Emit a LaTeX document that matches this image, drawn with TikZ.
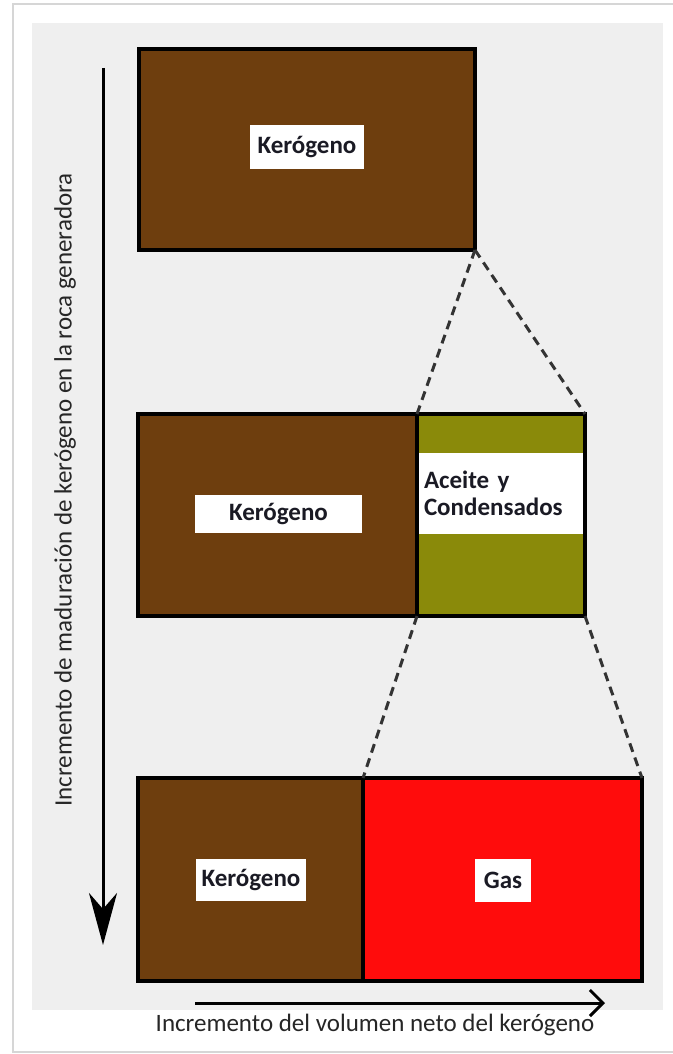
\documentclass[tikz,border=0pt]{standalone}
\usepackage{fontspec}
\setmainfont{Carlito}
\usepackage{tikz}
\usetikzlibrary{arrows.meta,positioning,calc}
\definecolor{kerobrown}{RGB}{110,62,14}
\definecolor{oilgreen}{RGB}{138,138,10}
\definecolor{gasred}{RGB}{255,12,12}
\definecolor{panelgray}{RGB}{239,239,239}
\definecolor{framegray}{RGB}{214,214,214}
\definecolor{labeltext}{RGB}{26,26,36}

\begin{document}
\begin{tikzpicture}[x = 1pt, y = -1pt,
  layer/.style = {draw = black, line width = 4pt, inner sep = 0pt, outer sep = 0pt},
  tag/.style = {fill = white, inner sep = 0pt, text = labeltext,
    font = \fontsize{25}{27}\selectfont\bfseries},
  link/.style = {line width = 3pt, draw = black!80, dash pattern = on 9pt off 6pt},
  axis/.style = {text = black!85, font = \fontsize{25}{30}\selectfont}]
\useasboundingbox (0, 0) rectangle (672, 1054);
\fill[white] (0, 0) rectangle (672, 1054);
\draw[framegray, line width = 1.5pt] (676, 4) -- (13, 4) -- (13, 1052) -- (676, 1052);
\fill[panelgray] (32, 23) rectangle (663, 1010);

\node[layer, fill = kerobrown, minimum width = 336pt, minimum height = 201pt] (k1) at (307, 149.5) {};
\node[layer, fill = kerobrown, minimum width = 279pt, minimum height = 202pt] (k2) at (277.5, 515) {};
\node[layer, fill = oilgreen, minimum width = 168pt, minimum height = 202pt] (oil) at (501, 515) {};
\node[layer, fill = kerobrown, minimum width = 225pt, minimum height = 203pt] (k3) at (250.5, 879.5) {};
\node[layer, fill = gasred, minimum width = 279pt, minimum height = 203pt] (gas) at (502.5, 879.5) {};

\node[tag, minimum width = 114pt, minimum height = 44pt] (k1tag) at (307, 147) {Kerógeno};
\node[tag, minimum width = 167pt, minimum height = 38pt] (k2tag) at (278.5, 514) {Kerógeno};
\node[tag, minimum width = 164pt, minimum height = 81pt, align = left, text width = 154pt] (oiltag) at (501, 493.5) {Aceite y\\Condensados};
\node[tag, minimum width = 110pt, minimum height = 42pt] (k3tag) at (251, 880) {Kerógeno};
\node[tag, minimum width = 56pt, minimum height = 43pt] (gastag) at (503, 880) {Gas};

\draw[link] (k1.south east) -- (oil.north west);
\draw[link] (k1.south east) -- (oil.north east);
\draw[link] (oil.south west) -- (gas.north west);
\draw[link] (oil.south east) -- (gas.north east);

\coordinate (vtop) at (103, 68);
\coordinate (vend) at (103, 945);
\coordinate (hstart) at (195, 1003);
\coordinate (hend) at (605, 1003);
\draw[line width = 3pt, -{Stealth[length = 52pt, width = 28pt, inset = 16pt]}] (vtop) -- (vend);
\draw[line width = 3pt, -{Straight Barb[length = 13pt, width = 26pt, line width = 3pt]}] (hstart) -- (hend);

\node[axis, rotate = 90] (vlabel) at (65, 490) {Incremento de maduración de kerógeno en la roca generadora};
\node[axis] (hlabel) at (375, 1025) {Incremento del volumen neto del kerógeno};
\end{tikzpicture}
\end{document}
